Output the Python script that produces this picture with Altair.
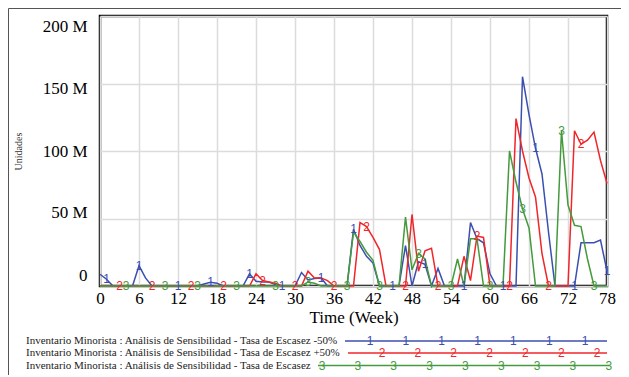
import altair as alt
import pandas as pd

# ---------------- data (values in millions of units) ----------------
weeks = list(range(79))

blue = [8.7, 5, 0, 0, 0, 0, 15, 6, 0, 0,
        0, 0, 0, 0, 0, 0, 1.5, 2.7, 2, 0,
        0, 0, 0, 9, 3.5, 3, 3, 1, 0, 0,
        0, 10, 4.5, 5.5, 6, 0, 0, 0, 0, 42,
        30, 22, 17, 0, 0, 0, 0, 30, 0, 18,
        16, 0, 13, 0, 0, 0, 0, 47, 35, 32,
        9, 0, 0, 0, 0, 155, 127, 102, 83, 40,
        0, 0, 0, 0, 32, 32, 32, 34, 11]

red = [0, 0, 0, 0, 0, 0, 0, 0, 0, 0,
       0, 0, 0, 0, 0, 0, 0, 0, 0, 0,
       0, 0, 0, 0, 9, 4, 3, 2, 0, 0,
       0, 0, 11, 6, 6, 4, 0, 0, 0, 0,
       47, 44, 36, 27, 0, 0, 0, 0, 53, 11,
       26, 28, 0, 0, 0, 0, 22, 4, 37, 36,
       0, 0, 0, 0, 124, 100, 80, 66, 24, 0,
       0, 0, 0, 115, 105, 108, 114, 93, 76]

green = [0, 0, 0, 0, 0, 0, 0, 0, 0, 0,
         0, 0, 0, 0, 0, 0, 0, 0, 0, 0,
         0, 0, 0, 0, 0, 0, 0, 0, 0, 0,
         0, 0, 3, 2, 0, 0, 0, 0, 0, 40,
         33, 25, 19, 0, 0, 0, 0, 51, 12, 24,
         20, 0, 0, 0, 0, 20, 0, 35, 35, 0,
         0, 0, 0, 100, 77, 57, 43, 0, 0, 0,
         0, 115, 60, 45, 44, 20, 0, 0, 0]

series_names = [
    "Inventario Minorista : Análisis de Sensibilidad - Tasa de Escasez -50%",
    "Inventario Minorista : Análisis de Sensibilidad - Tasa de Escasez +50%",
    "Inventario Minorista : Análisis de Sensibilidad - Tasa de Escasez",
]
digits = ["1", "2", "3"]

# weeks at which the series number markers are drawn
blue_marker_weeks = [1, 6, 12, 17, 23, 28, 34, 39, 45, 50, 56, 62, 67, 73, 78]
red_marker_weeks = [3, 8, 14, 19, 25, 30, 36, 41, 47, 52, 58, 63, 69, 74]
green_marker_weeks = [4, 10, 15, 21, 27, 32, 38, 43, 49, 54, 60, 65, 71, 76]

x_ticks = [0, 6, 12, 18, 24, 30, 36, 42, 48, 54, 60, 66, 72, 78]
y_ticks = [0, 50e6, 100e6, 150e6, 200e6]

# ---------------- styling ----------------
colors = ["#3c4fb0", "#f0262a", "#449a3c"]
SERIF = "Liberation Serif"
SANS = "Liberation Sans"
W, H = 507, 270

rows = []
for name, vals, dg, mw in zip(series_names, [blue, red, green], digits,
                              [blue_marker_weeks, red_marker_weeks, green_marker_weeks]):
    for w, v in zip(weeks, vals):
        rows.append({"week": w, "value": v * 1e6, "series": name,
                     "digit": dg, "marker": w in mw})
df = pd.DataFrame(rows)

color_scale = alt.Scale(domain=series_names, range=colors)

x_axis = alt.Axis(values=x_ticks, title="Time (Week)", format="d",
                  labelFont=SERIF, labelFontSize=17, labelColor="black",
                  labelPadding=4, ticks=False, domain=False,
                  labelOverlap=False, labelSeparation=0, labelBound=False,
                  grid=True, gridColor="#dcdcdc", gridWidth=1.5,
                  titleFont=SERIF, titleFontSize=17, titleFontWeight="normal",
                  titleColor="black", titlePadding=3, labelFlush=False)

y_axis = alt.Axis(values=y_ticks, title="Unidades",
                  labelExpr="datum.value == 0 ? '0' : format(datum.value / 1e6, 'd') + ' M'",
                  labelFont=SERIF, labelFontSize=17, labelColor="black",
                  labelPadding=13, ticks=False, domain=False,
                  labelOverlap=False,
                  labelOffset={"condition": [
                      {"test": "datum.value == 0", "value": -11},
                      {"test": "datum.value == 50000000", "value": -6},
                      {"test": "datum.value == 150000000", "value": 5},
                      {"test": "datum.value == 200000000", "value": 10}],
                      "value": 0},
                  grid=True, gridColor="#dcdcdc", gridWidth=1.5,
                  titleFont=SERIF, titleFontSize=10, titleFontWeight="normal",
                  titleColor="#333333", titleX=-82, titleY=135,
                  titleAngle=270, titleAlign="center", titleBaseline="middle",
                  labelFlush=False)

x_scale = alt.Scale(domain=[0, 78], nice=False, zero=False)
y_scale = alt.Scale(domain=[0, 200e6], nice=False)

base = alt.Chart(df)
lines = base.mark_line(strokeWidth=1.5).encode(
    x=alt.X("week:Q", scale=x_scale, axis=x_axis),
    y=alt.Y("value:Q", scale=y_scale, axis=y_axis),
    color=alt.Color("series:N", scale=color_scale, legend=None),
    detail="series:N",
)
markers = base.transform_filter("datum.marker").mark_text(
    font=SANS, fontSize=12, baseline="middle", align="center"
).encode(
    x=alt.X("week:Q", scale=x_scale, axis=x_axis),
    y=alt.Y("value:Q", scale=y_scale, axis=y_axis),
    text="digit:N",
    color=alt.Color("series:N", scale=color_scale, legend=None),
)

layers = [lines, markers]

# ---------------- custom legend (below the plot) ----------------
dummy = pd.DataFrame({"a": [0]})
leg_y = [325, 337, 349.5]
leg_text_x = -74
leg_line = [(245, 507), (248, 507), (218, 509)]
leg_marker_first = [270, 282, 222]
leg_marker_count = [7, 7, 9]
leg_step = 35.85

for i in range(3):
    layers.append(alt.Chart(dummy).mark_text(
        font=SERIF, fontSize=11, align="left", baseline="middle", color="#222222"
    ).encode(x=alt.value(leg_text_x), y=alt.value(leg_y[i]), text=alt.value(series_names[i])))
    layers.append(alt.Chart(dummy).mark_rule(color=colors[i], strokeWidth=1.5).encode(
        x=alt.value(leg_line[i][0]), x2=alt.value(leg_line[i][1]), y=alt.value(leg_y[i])))
    for k in range(leg_marker_count[i]):
        layers.append(alt.Chart(dummy).mark_text(
            font=SANS, fontSize=12, align="center", baseline="middle", color=colors[i]
        ).encode(x=alt.value(leg_marker_first[i] + k * leg_step), y=alt.value(leg_y[i]),
                 text=alt.value(digits[i])))

# outer frame (top and left edges)
layers.append(alt.Chart(dummy).mark_rule(color="#555555", strokeWidth=1).encode(
    x=alt.value(-91.5), x2=alt.value(521), y=alt.value(-7.5)))
layers.append(alt.Chart(dummy).mark_rule(color="#555555", strokeWidth=1).encode(
    x=alt.value(-91.5), y=alt.value(-7.5), y2=alt.value(361)))

chart = alt.layer(*layers).properties(
    width=W, height=H,
    autosize=alt.AutoSizeParams(type="none"),
    padding={"left": 92, "top": 8, "right": 14, "bottom": 89},
).configure_view(
    stroke="black", strokeWidth=2.5
).configure_axis(labelOverlap=False)

chart.save("out.html", embed_options={"renderer": "svg", "actions": False})
